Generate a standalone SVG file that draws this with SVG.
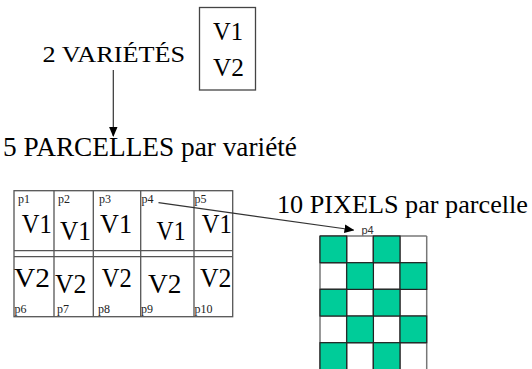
<svg xmlns="http://www.w3.org/2000/svg" width="532" height="369" viewBox="0 0 532 369">
<style>
  text { font-family: "Liberation Serif", "DejaVu Serif", "Times New Roman", serif; fill: #000; }
  .lab { font-size: 12px; fill: #222; }
  .lab2 { font-family: "Liberation Sans", "DejaVu Sans", Arial, sans-serif; font-size: 11px; fill: #333; }
  .ln { stroke: #555; stroke-width: 1.3; fill: none; }
  .gl { stroke: #777; stroke-width: 1.5; }
  .g { fill: #00CC99; stroke: #222; stroke-width: 1.2; }
  .conn { stroke: #333; stroke-width: 1.2; fill: none; }
</style>
<defs>
  <marker id="ah" markerWidth="10" markerHeight="10" refX="9" refY="5" orient="auto" markerUnits="userSpaceOnUse">
    <path d="M0,0.8 L10,5 L0,9.2 Z" fill="#000"/>
  </marker>
</defs>
<rect width="532" height="369" fill="#fff"/>

<g id="varietes">
  <text font-size="24" x="42.5" y="62" textLength="142.5" lengthAdjust="spacingAndGlyphs">2 VARIÉTÉS</text>
</g>

<g id="box-v1v2">
  <rect x="199.5" y="7.5" width="56" height="82.5" fill="none" stroke="#444" stroke-width="1.3"/>
  <text font-size="25" x="213" y="39.5" textLength="30" lengthAdjust="spacingAndGlyphs">V1</text>
  <text font-size="25" x="213" y="75.5" textLength="31" lengthAdjust="spacingAndGlyphs">V2</text>
</g>

<g id="parcelles-label">
  <text font-size="27" x="3" y="156" textLength="294" lengthAdjust="spacingAndGlyphs">5 PARCELLES par variété</text>
</g>

<g id="parcelles-table">
  <rect class="ln" x="14" y="190.7" width="218.7" height="126"/>
  <line class="ln" x1="14" y1="250.7" x2="232.7" y2="250.7"/>
  <line class="ln" x1="14" y1="256.7" x2="232.7" y2="256.7"/>
  <line class="ln" x1="54" y1="190.7" x2="54" y2="316.7"/>
  <line class="ln" x1="93.3" y1="190.7" x2="93.3" y2="316.7"/>
  <line class="ln" x1="140.7" y1="190.7" x2="140.7" y2="316.7"/>
  <line class="ln" x1="194" y1="190.7" x2="194" y2="316.7"/>

  <text class="lab" x="18" y="202.5">p1</text>
  <text class="lab" x="58" y="202.5">p2</text>
  <text class="lab" x="99" y="202.5">p3</text>
  <text class="lab" x="141.5" y="202.5">p4</text>
  <text class="lab" x="194.5" y="202.5">p5</text>
  <text class="lab" x="14.5" y="312.5">p6</text>
  <text class="lab" x="57" y="312.5">p7</text>
  <text class="lab" x="98" y="312.5">p8</text>
  <text class="lab" x="141" y="312.5">p9</text>
  <text class="lab" x="194.5" y="312.5">p10</text>

  <text font-size="28" x="21.7" y="233" textLength="30" lengthAdjust="spacingAndGlyphs">V1</text>
  <text font-size="28" x="60" y="240" textLength="31" lengthAdjust="spacingAndGlyphs">V1</text>
  <text font-size="28" x="100" y="233" textLength="32" lengthAdjust="spacingAndGlyphs">V1</text>
  <text font-size="28" x="156.5" y="240" textLength="29" lengthAdjust="spacingAndGlyphs">V1</text>
  <text font-size="28" x="201.7" y="233" textLength="30" lengthAdjust="spacingAndGlyphs">V1</text>

  <text font-size="28" x="14" y="287" textLength="36" lengthAdjust="spacingAndGlyphs">V2</text>
  <text font-size="28" x="55" y="292.5" textLength="31.5" lengthAdjust="spacingAndGlyphs">V2</text>
  <text font-size="28" x="101.7" y="287" textLength="30" lengthAdjust="spacingAndGlyphs">V2</text>
  <text font-size="28" x="148" y="293" textLength="33.5" lengthAdjust="spacingAndGlyphs">V2</text>
  <text font-size="28" x="200" y="287" textLength="31.5" lengthAdjust="spacingAndGlyphs">V2</text>
</g>

<g id="pixels-label">
  <text font-size="26" x="277" y="213" textLength="251" lengthAdjust="spacingAndGlyphs">10 PIXELS par parcelle</text>
</g>

<g id="pixel-grid">
  <text class="lab2" x="361.5" y="234">p4</text>
  <rect x="320" y="236" width="106.7" height="140" fill="#fff"/>
  <line class="gl" x1="320" y1="236" x2="320" y2="369"/>
  <line class="gl" x1="346.7" y1="236" x2="346.7" y2="369"/>
  <line class="gl" x1="373.3" y1="236" x2="373.3" y2="369"/>
  <line class="gl" x1="400" y1="236" x2="400" y2="369"/>
  <line class="gl" x1="426.7" y1="236" x2="426.7" y2="369"/>
  <line class="gl" x1="320" y1="236" x2="426.7" y2="236"/>
  <line class="gl" x1="320" y1="262.7" x2="426.7" y2="262.7"/>
  <line class="gl" x1="320" y1="289.3" x2="426.7" y2="289.3"/>
  <line class="gl" x1="320" y1="316" x2="426.7" y2="316"/>
  <line class="gl" x1="320" y1="342.7" x2="426.7" y2="342.7"/>

  <rect class="g" x="320" y="236" width="26.7" height="26.7"/>
  <rect class="g" x="373.3" y="236" width="26.7" height="26.7"/>
  <rect class="g" x="346.7" y="262.7" width="26.7" height="26.7"/>
  <rect class="g" x="400" y="262.7" width="26.7" height="26.7"/>
  <rect class="g" x="320" y="289.3" width="26.7" height="26.7"/>
  <rect class="g" x="373.3" y="289.3" width="26.7" height="26.7"/>
  <rect class="g" x="346.7" y="316" width="26.7" height="26.7"/>
  <rect class="g" x="400" y="316" width="26.7" height="26.7"/>
  <rect class="g" x="320" y="342.7" width="26.7" height="30"/>
  <rect class="g" x="373.3" y="342.7" width="26.7" height="30"/>
</g>

<g id="connectors">
  <line class="conn" x1="113.3" y1="70" x2="113.3" y2="136" marker-end="url(#ah)"/>
  <line class="conn" x1="158.5" y1="202.7" x2="353.5" y2="230" marker-end="url(#ah)"/>
</g>
</svg>
